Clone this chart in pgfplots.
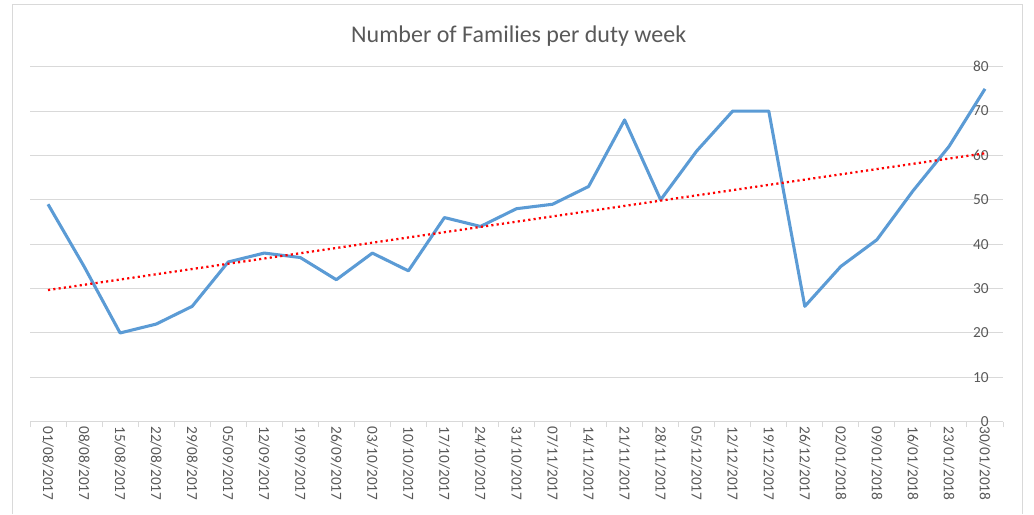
\documentclass[border=0pt]{standalone}
\usepackage{fontspec}
\setmainfont{Carlito}
\usepackage{pgfplots}
\pgfplotsset{compat=1.18}
\definecolor{linblue}{HTML}{5B9BD5}
\definecolor{gridc}{HTML}{D9D9D9}
\definecolor{txt}{HTML}{595959}
\begin{document}
\begin{tikzpicture}
\useasboundingbox (0,0) rectangle (775.5pt,385.5pt);
\draw[gridc, line width=0.75pt] (9pt,0) -- (9pt,381.75pt) -- (766.5pt,381.75pt) -- (766.5pt,0);
\node[txt, font=\fontsize{18}{20}\selectfont, anchor=base] at (389pt,353.25pt) {Number of Families per duty week};
\begin{axis}[
  at={(22.5pt,69.2pt)}, anchor=south west, scale only axis,
  width=729.75pt, height=266.3pt,
  xmin=-0.5, xmax=26.5, ymin=0, ymax=80, ytick={0,10,...,80},
  axis x line*=bottom, axis y line*=right,
  y axis line style={draw=none},
  x axis line style={gridc, line width=0.75pt, -},
  xtick={0,...,26},
  xticklabels={01/08/2017,08/08/2017,15/08/2017,22/08/2017,29/08/2017,05/09/2017,12/09/2017,19/09/2017,26/09/2017,03/10/2017,10/10/2017,17/10/2017,24/10/2017,31/10/2017,07/11/2017,14/11/2017,21/11/2017,28/11/2017,05/12/2017,12/12/2017,19/12/2017,26/12/2017,02/01/2018,09/01/2018,16/01/2018,23/01/2018,30/01/2018},
  major tick length=0pt,
  minor xtick={-0.5,0.5,...,26.5}, minor tick length=4pt, tick align=outside,
  minor tick style={gridc, line width=0.75pt},
  ymajorgrids, grid style={gridc, line width=0.75pt},
  tick label style={txt, font=\fontsize{11.5}{12}\selectfont},
  xticklabel style={rotate=-90, anchor=west},
  yticklabel style={anchor=east, inner sep=0pt, xshift=-10.5pt},
  /pgf/number format/assume math mode=true,
  clip=false]
\addplot[linblue, line width=2.3pt, line join=round] coordinates {
(0,49)(1,35)(2,20)(3,22)(4,26)(5,36)(6,38)(7,37)(8,32)(9,38)(10,34)(11,46)(12,44)(13,48)(14,49)(15,53)(16,68)(17,50)(18,61)(19,70)(20,70)(21,26)(22,35)(23,41)(24,52)(25,62)(26,75)};
\addplot[red, line width=1.7pt, line cap=butt, dash pattern=on 1.6pt off 2.4pt] coordinates {(0,29.67)(26,60.48)};
\end{axis}
\end{tikzpicture}
\end{document}
